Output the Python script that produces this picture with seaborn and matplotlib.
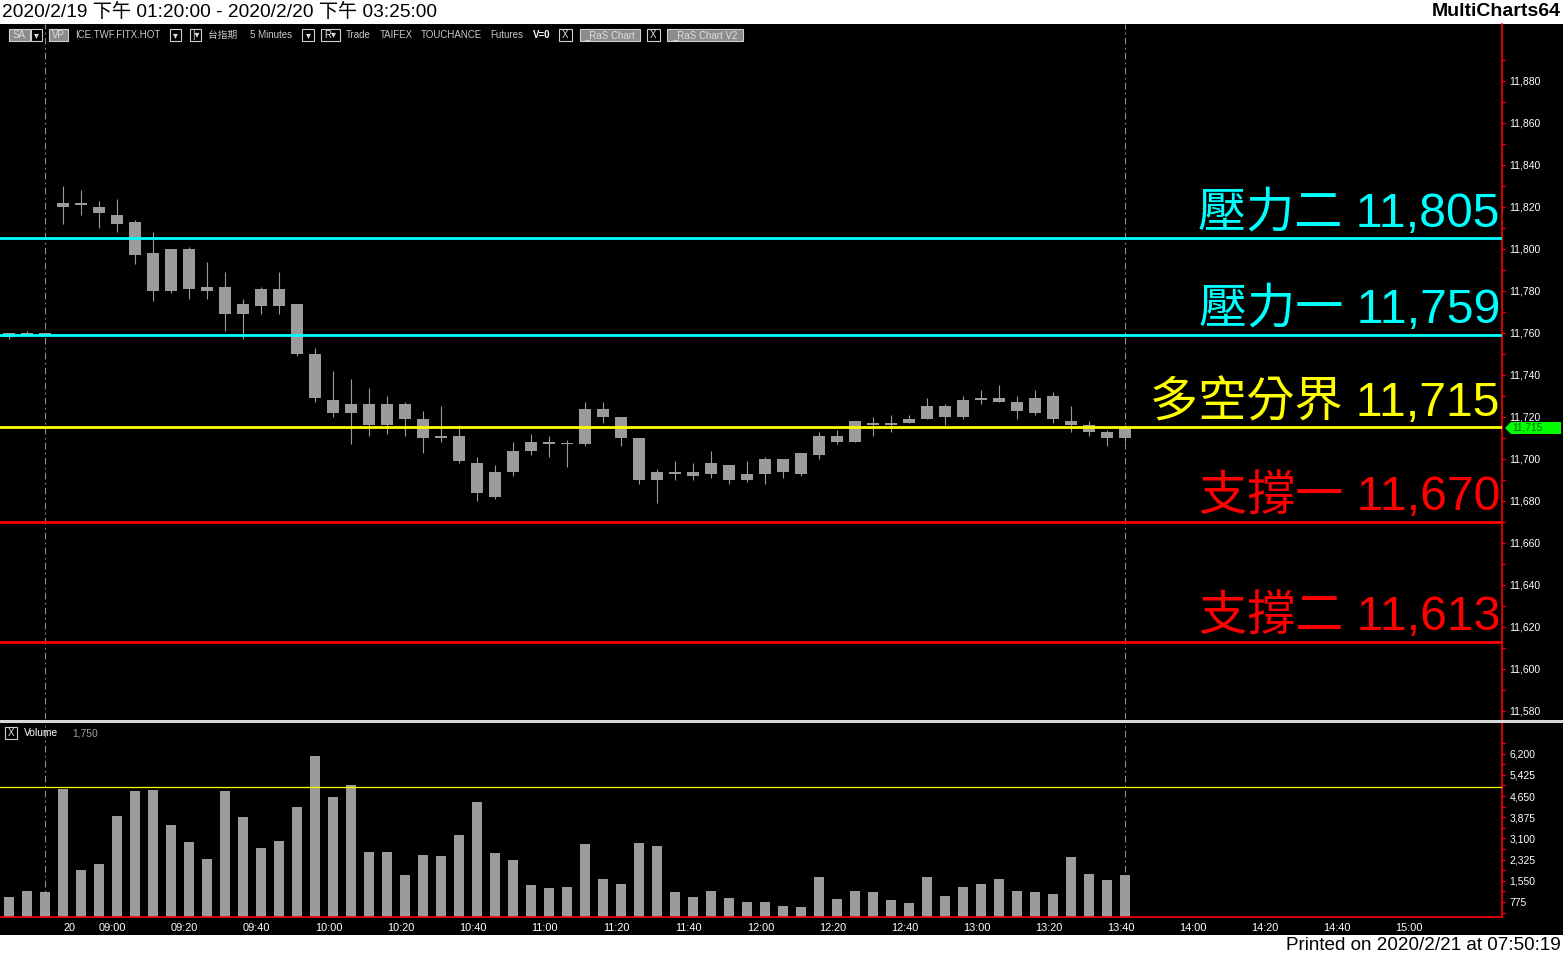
import numpy as np
import pandas as pd
import matplotlib
matplotlib.use("Agg")
import matplotlib.pyplot as plt
import seaborn as sns
from matplotlib.patches import Rectangle, Polygon
from matplotlib.lines import Line2D
from matplotlib.ticker import FuncFormatter, FixedLocator

# ---------------- data ----------------
opens = [11760, 11759, 11760, 11820, 11822, 11820, 11816, 11813, 11798, 11780,
         11800, 11782, 11782, 11769, 11773, 11781, 11774, 11750, 11728, 11722,
         11726, 11716, 11726, 11719, 11710, 11711, 11698, 11682, 11694, 11704,
         11707, 11707, 11707, 11724, 11720, 11710, 11690, 11693, 11692, 11693,
         11697, 11690, 11693, 11700, 11693, 11702, 11711, 11708, 11717, 11716,
         11717, 11719, 11725, 11720, 11728, 11729, 11727, 11722, 11730, 11718,
         11716, 11713, 11710]
highs = [11760, 11761, 11760, 11830, 11828, 11823, 11824, 11814, 11808, 11800,
         11801, 11794, 11789, 11776, 11782, 11789, 11774, 11753, 11742, 11738,
         11734, 11730, 11727, 11723, 11725, 11716, 11701, 11697, 11708, 11712,
         11711, 11709, 11727, 11727, 11720, 11710, 11695, 11699, 11698, 11704,
         11697, 11699, 11701, 11700, 11703, 11713, 11714, 11718, 11720, 11721,
         11721, 11729, 11726, 11730, 11733, 11735, 11730, 11733, 11732, 11725,
         11718, 11714, 11716]
lows = [11757, 11759, 11759, 11812, 11816, 11810, 11808, 11793, 11775, 11779,
        11776, 11776, 11761, 11757, 11769, 11769, 11749, 11727, 11720, 11707,
        11711, 11712, 11711, 11703, 11708, 11698, 11680, 11681, 11692, 11702,
        11701, 11696, 11706, 11717, 11706, 11688, 11679, 11690, 11690, 11691,
        11688, 11689, 11688, 11691, 11692, 11700, 11707, 11708, 11711, 11713,
        11717, 11719, 11716, 11719, 11726, 11727, 11719, 11721, 11717, 11713,
        11711, 11706, 11708]
closes = [11758, 11760, 11759, 11822, 11821, 11817, 11812, 11797, 11780, 11800,
          11781, 11780, 11769, 11774, 11781, 11773, 11750, 11729, 11722, 11726,
          11716, 11726, 11719, 11710, 11711, 11699, 11684, 11694, 11704, 11708,
          11708, 11707, 11724, 11720, 11710, 11690, 11694, 11693, 11694, 11698,
          11690, 11693, 11700, 11694, 11703, 11711, 11708, 11718, 11716, 11717,
          11719, 11725, 11720, 11728, 11729, 11727, 11723, 11729, 11719, 11716,
          11713, 11710, 11715]
volumes = [958, 1178, 1141, 4909, 1946, 2166, 3921, 4836, 4872, 3592,
           2970, 2349, 4836, 3884, 2751, 3007, 4250, 6116, 4616, 5055,
           2604, 2604, 1763, 2494, 2458, 3226, 4433, 2567, 2312, 1397,
           1288, 1324, 2896, 1616, 1434, 2934, 2824, 1142, 958, 1178,
           921, 775, 775, 628, 592, 1690, 885, 1178, 1141, 848,
           738, 1690, 995, 1324, 1434, 1616, 1178, 1141, 1068, 2421,
           1800, 1580, 1750]
prev_session_bars = 3          # bars from the previous (night) session
day_start = "08:50"            # first bar of 2020/2/20 day session
tick_times = ["08:50", "09:00", "09:20", "09:40", "10:00", "10:20", "10:40",
              "11:00", "11:20", "11:40", "12:00", "12:20", "12:40", "13:00",
              "13:20", "13:40", "14:00", "14:20", "14:40", "15:00"]
tick_labels = ["20"] + tick_times[1:]
level_names = ["壓力二", "壓力一", "多空分界", "支撐一", "支撐二"]
level_values = [11805, 11759, 11715, 11670, 11613]
level_colors = ["#00ffff", "#00ffff", "#ffff00", "#ff0000", "#ff0000"]
last_price = 11715
volume_ref = 4970

# ---------------- figure ----------------
sns.set_theme(style="dark")
plt.rcParams["font.family"] = ["Liberation Sans", "Noto Sans CJK TC", "DejaVu Sans"]
W, H = 1563, 957
fig = plt.figure(figsize=(W / 100, H / 100), dpi=100, facecolor="white")

def X(px):
    return px / W

def Y(py):
    return 1 - py / H

LAT = ["Liberation Sans", "DejaVu Sans"]
CJK = ["Liberation Sans", "Noto Sans CJK TC", "DejaVu Sans"]
GRAY = "#9b9b9b"

fig.add_artist(Rectangle((0, Y(935)), 1, (935 - 24) / H, transform=fig.transFigure,
                         facecolor="black", edgecolor="none", zorder=-5))

ax_p = fig.add_axes([0, Y(719), X(1502), (719 - 24) / H])
ax_v = fig.add_axes([0, Y(917), X(1502), (917 - 722) / H])
for ax in (ax_p, ax_v):
    ax.set_facecolor("black")
    ax.grid(False)
    for s in ("left", "top", "bottom", "right"):
        ax.spines[s].set_visible(False)
    ax.spines["right"].set_visible(True)
    ax.spines["right"].set_color("red")
    ax.spines["right"].set_linewidth(1.2)

n = len(opens)
x = np.arange(n)
o = np.array(opens, float); c = np.array(closes, float)
hi = np.array(highs, float); lo = np.array(lows, float)

XL = (-0.5, (1502 - 9) / 18)

# candles
ax_p.vlines(x, lo, hi, color=GRAY, lw=0.8, zorder=2)
body_lo = np.minimum(o, c)
body_h = np.maximum(np.abs(c - o), 0.6)
ax_p.bar(x, body_h, bottom=body_lo, width=0.72, color=GRAY, linewidth=0, zorder=3)

# session markers
for b in (prev_session_bars - 1, n - 1):
    for ax in (ax_p, ax_v):
        ax.axvline(b, color="#8a8a8a", lw=0.8, ls=(0, (6, 3, 1.5, 3)), zorder=1)

# levels
for name, val, col in zip(level_names, level_values, level_colors):
    ax_p.axhline(val, color=col, lw=2.0, zorder=5)
    ax_p.text(1500 / 1502, val + 5.6, f"{name} {val:,}", transform=ax_p.get_yaxis_transform(),
              ha="right", va="baseline", color=col, fontsize=34.7, family=CJK,
              fontweight="light", zorder=6)

ax_p.set_xlim(*XL)
ax_p.set_ylim(11880 - (719 - 81) / 2.1, 11880 + (81 - 24) / 2.1)
ax_p.set_xticks([])
ax_p.yaxis.tick_right()
ax_p.yaxis.set_major_locator(FixedLocator(np.arange(11580, 11881, 20)))
ax_p.yaxis.set_minor_locator(FixedLocator(np.arange(11590, 11900, 20)))
ax_p.yaxis.set_major_formatter(FuncFormatter(lambda v, p: f"{v:,.0f}"))
ax_p.tick_params(axis="y", which="both", colors="red", labelcolor="white",
                 labelsize=7.5, width=1, pad=3)
ax_p.tick_params(axis="y", which="major", length=2.5)
ax_p.tick_params(axis="y", which="minor", length=1.8)
for t in ax_p.get_yticklabels():
    t.set_family(LAT)

# last price tag
tag_y = 428
fig.add_artist(Polygon([[X(1505), Y(tag_y)], [X(1511), Y(tag_y - 6)], [X(1561), Y(tag_y - 6)],
                        [X(1561), Y(tag_y + 6)], [X(1511), Y(tag_y + 6)]],
                       closed=True, transform=fig.transFigure, facecolor="#00ff00",
                       edgecolor="none", zorder=10))
fig.text(X(1512), Y(tag_y), f"{last_price:,}", ha="left", va="center", fontsize=7.3,
         color="#006000", family=LAT, zorder=11)

# volume
df = pd.DataFrame({"bar": x, "volume": volumes})
sns.barplot(data=df, x="bar", y="volume", native_scale=True, width=0.61, color=GRAY,
            saturation=1, errorbar=None, linewidth=0, ax=ax_v, zorder=2)
ax_v.axhline(volume_ref, color="#ffff00", lw=0.9, zorder=4)
ax_v.set_xlim(*XL)
ax_v.set_ylim((923.2 - 917) * 36.58, (923.2 - 722) * 36.58)
ax_v.set_xlabel(""); ax_v.set_ylabel("")
ax_v.spines["bottom"].set_visible(True)
ax_v.spines["bottom"].set_color("red")
ax_v.spines["bottom"].set_linewidth(1.2)
ax_v.yaxis.tick_right()
ax_v.yaxis.set_major_locator(FixedLocator(np.arange(775, 6201, 775)))
ax_v.yaxis.set_minor_locator(FixedLocator(np.arange(387.5, 7000, 775)))
ax_v.yaxis.set_major_formatter(FuncFormatter(lambda v, p: f"{v:,.0f}"))
ax_v.tick_params(axis="y", which="both", colors="red", labelcolor="white",
                 labelsize=7.5, width=1, pad=3)
ax_v.tick_params(axis="y", which="major", length=2.5)
ax_v.tick_params(axis="y", which="minor", length=1.8)

def bar_of(t):
    h0, m0 = map(int, day_start.split(":"))
    h, m = map(int, t.split(":"))
    return prev_session_bars + ((h * 60 + m) - (h0 * 60 + m0)) // 5

tick_pos = [bar_of(t) for t in tick_times]
ax_v.set_xticks(tick_pos)
ax_v.set_xticklabels(tick_labels)
ax_v.xaxis.set_minor_locator(FixedLocator([]))
ax_v.tick_params(axis="x", colors="red", labelcolor="white", labelsize=7.9,
                 length=3, width=1, pad=1.5, direction="out")
for t in ax_v.get_xticklabels() + ax_v.get_yticklabels():
    t.set_family(LAT)
for t in ax_v.get_xticklabels():
    t.set_horizontalalignment("left")

# pane separator
fig.add_artist(Line2D([0, 1], [Y(720.5), Y(720.5)], transform=fig.transFigure,
                      color="#d8d8d8", lw=2.2, zorder=8))

# header / footer
fig.text(X(2), Y(12), "2020/2/19 下午 01:20:00 - 2020/2/20 下午 03:25:00", ha="left",
         va="center", fontsize=13.8, color="black", family=CJK)
fig.text(X(1561), Y(12), "MultiCharts64", ha="right", va="center", fontsize=14,
         color="black", fontweight="bold", family=LAT)
fig.text(X(1561), Y(946), "Printed on 2020/2/21 at 07:50:19", ha="right", va="center",
         fontsize=13.6, color="black", family=LAT)

# toolbar
def box(x0, x1, y0, y1, label, fill="black", tcolor="#e0e0e0", bold=False):
    fig.add_artist(Rectangle((X(x0), Y(y1)), X(x1) - X(x0), (y1 - y0) / H,
                             transform=fig.transFigure, facecolor=fill,
                             edgecolor="#d0d0d0", lw=0.8, zorder=9))
    fig.text(X((x0 + x1) / 2), Y((y0 + y1) / 2), label, ha="center", va="center",
             fontsize=7.0, color=tcolor, family=CJK, zorder=10,
             fontweight="bold" if bold else "normal")

def label(px, s, color="#c8c8c8", bold=False, fam=None):
    fig.text(X(px), Y(35), s, ha="left", va="center", fontsize=7.0, color=color,
             family=fam or CJK, fontweight="bold" if bold else "normal", zorder=10)

box(9, 30, 29, 41, "SA", fill="#8c8c8c")
box(31, 42, 29, 41, "▾")
box(49, 68, 29, 41, "VP", fill="#8c8c8c")
label(75, "ICE.TWF.FITX.HOT")
box(170, 181, 29, 41, "▾")
box(190, 201, 29, 41, "|▾")
label(208, "台指期")
label(250, "5 Minutes")
box(302, 314, 29, 41, "▾")
box(321, 340, 29, 41, "R▾")
label(346, "Trade")
label(380, "TAIFEX")
label(421, "TOUCHANCE")
label(490, "Futures")
label(533, "V=0", color="white", bold=True)
box(559, 572, 29, 41, "X")
box(580, 640, 29, 41, "_RaS Chart", fill="#8c8c8c")
box(647, 660, 29, 41, "X")
box(667, 743, 29, 41, "_RaS Chart V2", fill="#8c8c8c")

# volume header
box(5, 17, 727, 739, "X")
fig.text(X(24), Y(733), "Volume", ha="left", va="center", fontsize=7.4, color="white",
         family=LAT, zorder=10)
fig.text(X(72), Y(733), f"{volumes[-1]:,}", ha="left",
         va="center", fontsize=7.4, color="#a0a0a0", family=LAT, zorder=10)

fig.savefig("out.png", dpi=100, facecolor="white")
